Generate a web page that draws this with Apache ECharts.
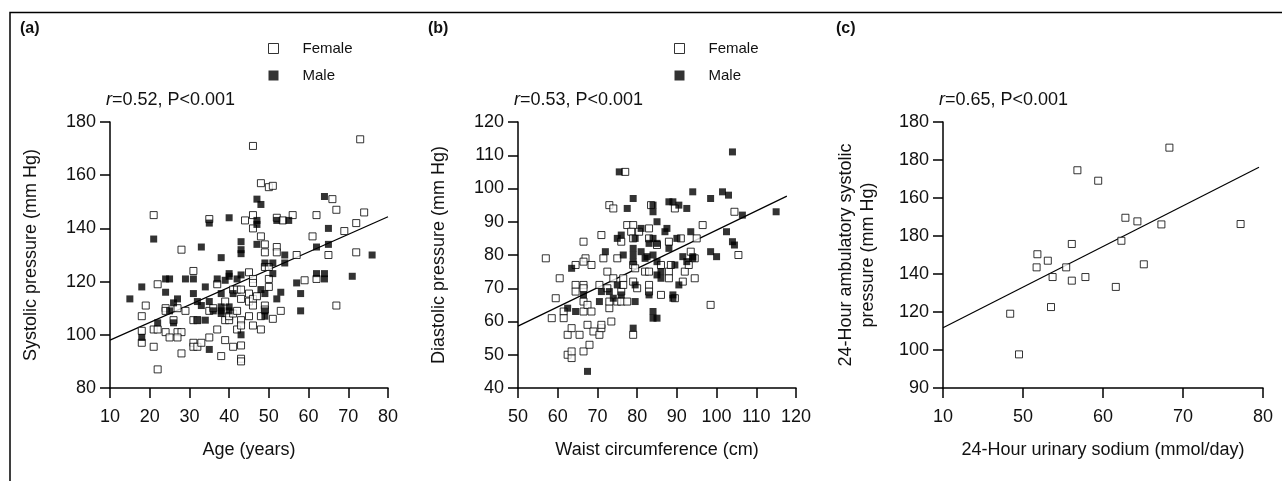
<!DOCTYPE html>
<html>
<head>
<meta charset="utf-8">
<script src="https://cdn.jsdelivr.net/npm/echarts@6/dist/echarts.min.js"></script>
<style>
  html, body { margin: 0; padding: 0; background: #fff; }
  #chart { width: 1282px; height: 481px; }
</style>
</head>
<body>
<div id="chart"></div>
<script>
// panel (a): age vs systolic pressure
const femaleA = [[46,171],[73,173.5],[21,145],[35,143.5],[44,143],[46,145],[46,140],[48,157],[50,155.5],[51,156],[52,144],[53.5,143],[56,145],[62,145],[66,151],[67,147],[74,146],[72,142],[69,139],[61,137],[48,137],[49,134],[52,133],[49,131],[52,131],[57,130],[65,130],[72,131],[28,132],
  [18,107],[18,101.5],[18,97],[19,111],[22,119],[21,102],[22,102],[21,95.5],[22,87],[24,110],[24,109],[24,101],[25,99],[26,105.5],[27,110],[27,101],[28,101],[27,99],[28,93],[29,109],[31,124],[31,105.5],[32,105.5],[31,97],[31,95.5],[32,95.5],[33,97],[35,99],[35,109],[36,110],[37,119],[37,102],[38,92],[39,112.5],[39,105.5],[39,98],[40,105.5],[40,107],[41,117],[41,95.5],[41,108],[42,117],[42,102],[42,109],[43,113.5],[43,117],[43,105.5],[43,103.5],[43,96],[43,91],[43,90],[45,123.5],[45,115.5],[45,112.5],[45,107],[46,121],[46,119.5],[46,113.5],[46,111],[46,103.5],[47,114.5],[48,107],[48,102],[49,125.5],[49,111],[49,109.5],[50,125.5],[50,121],[50,118],[51,106],[53,109],[59,120.5],[62,121],[67,111]];
const maleA = [[21,136],[35,142],[40,144],[47,151],[48,149],[47,143],[47,141.5],[52,143],[55,143],[64,152],[65,140],[43,135],[47,134],[33,133],[43,132],[43,130.5],[65,134],[62,133],[38,129],[54,130],[76,130],
  [15,113.5],[18,118],[18,99],[24,121],[25,121],[24,116],[25,109],[26,112],[27,113.5],[22,104.5],[26,104.5],[29,121],[31,121],[31,115.5],[32,112.5],[33,111],[32,105.5],[34,105.5],[34,118],[35,112.5],[35,94.5],[36,109],[37,121],[38,115.5],[38,110.5],[38,109],[38,108],[39,120.5],[40,123],[40,122],[40,110.5],[40,109],[41,115.5],[42,121],[43,122.5],[43,100],[48,117],[49,127],[49,115.5],[49,109],[49,107],[51,127],[51,123],[52,113.5],[53,116],[54,127],[57,119.5],[58,115.5],[58,109],[62,123],[64,123],[64,121],[71,122]];
const fitA = [[10,98],[80,144.4]];

// panel (b): waist vs diastolic pressure
const femaleB = [[77,105],[73,95],[74,94],[83.5,95],[89.5,94],[77.5,89],[79,89],[83,88],[96.5,89],[71,86],[66.5,84],[76,84],[78.5,87],[79,85],[80.5,87],[83,85],[85,83],[88,84],[91,85],[95,85],[104.5,93],[93.5,81],[105.5,80],[57,79],[67,79],[71.5,79],[75,79],
  [58.5,61],[59.5,67],[60.5,73],[61.5,63],[61.5,61],[62.5,56],[62.5,50],[63.5,49],[63.5,51],[63.5,58],[64.5,77],[64.5,71],[64.5,69],[65.5,56],[66.5,71],[66.5,70],[66.5,78],[66.5,66],[66.5,63],[66.5,51],[67.5,65],[67.5,59],[68,53],[68.5,77],[68.5,63],[69,57],[70.5,71],[70.5,56],[71,58],[71,59],[72.5,75],[72.5,70],[73,64],[73,66],[73.5,60],[74,73],[75,66],[76,66],[76,69],[76.5,73],[76.5,71],[77.5,66],[79,72],[79,56],[79,77],[79.5,76],[80,70],[82,75],[83,75],[83,71],[83,69],[86,77],[86,68],[88,75],[88,73],[88.5,77],[89.5,67],[91.5,72],[92,75],[93,77],[94.5,79],[94.5,73],[98.5,65]];
const maleB = [[104,111],[75.5,105],[79,97],[77.5,94],[84,95],[84,93],[88,96],[89,96],[90.5,95],[92.5,94],[94,99],[98.5,97],[101.5,99],[103,98],[115,93],[106.5,92],[85,90],[75,85],[76,86],[79.5,85],[81,88],[87,87],[87.5,88],[84,85],[83,83.5],[85,83.5],[90,85],[93.5,87],[102.5,87],[104,84],[104.5,83],[88,82],[79,82],[72,81],[76.5,80],[79,80],[81,81],[82.5,79.5],[84,80],[91.5,79.5],[94,79.5],[98.5,81],[100,79.5],
  [63.5,76],[62.5,64],[64.5,63],[66.5,68],[67.5,45],[70.5,66],[71,69],[73,69],[74,67],[75,71],[76,68],[79,78],[79,58],[79.5,71],[79.5,66],[82,79],[83,68],[84,63],[84,61],[85,61],[85,78],[85,74],[86,73],[86,75],[89,68],[89,67],[89.5,77],[90.5,71],[92.5,78],[94,79]];
const fitB = [[50,58.6],[117.7,97.7]];

// panel (c): sodium vs ambulatory systolic pressure
const pointsC = [[68.3,206.5],[56.8,194.6],[59.4,189.1],[62.8,169.6],[64.3,167.7],[67.3,166.1],[77.2,166.3],[62.3,157.5],[56.1,155.8],[51.8,150.4],[53.1,147],[51.7,143.5],[55.4,143.5],[65.1,145.1],[53.7,138.4],[56.1,136.5],[57.8,138.4],[61.6,133.2],[53.5,122.6],[48.4,119.1],[49.5,97.7]];
const fitC = [[40,111.7],[79.5,196.2]];
// tick labels as printed in panel (c)
const xLabelsC = ['10', '50', '60', '70', '80'];
const yLabelsC = ['90', '100', '120', '140', '180', '160', '180', '180'];

const FONT = 'Liberation Sans, Arial, sans-serif';
const INK = '#111';
const FS = 18;

function axis(extra, isY) {
  return Object.assign({
    type: 'value',
    axisLine: { show: true, onZero: false, lineStyle: { color: '#000', width: 1.5 } },
    axisTick: { show: true, length: 10, lineStyle: { color: '#000', width: 1.5 } },
    axisLabel: { color: INK, fontSize: FS, fontFamily: FONT, margin: isY ? 14 : 20 },
    splitLine: { show: false },
    nameLocation: 'middle',
    nameTextStyle: { color: INK, fontSize: FS, fontFamily: FONT }
  }, extra);
}

const openSq = { color: '#fff', borderColor: '#000', borderWidth: 1 };
const fillSq = { color: '#000' };

function scatter(name, data, idx, style) {
  return { name: name, type: 'scatter', data: data, xAxisIndex: idx, yAxisIndex: idx,
    symbol: 'rect', symbolSize: 7, itemStyle: style, silent: true };
}
function fit(data, idx) {
  return { type: 'line', data: data, xAxisIndex: idx, yAxisIndex: idx, showSymbol: false,
    lineStyle: { color: '#000', width: 1.2 }, silent: true, z: 1 };
}

const legendItems = [
  { name: 'Female', icon: 'rect', itemStyle: openSq },
  { name: 'Male', icon: 'rect', itemStyle: fillSq }
];
function legend(left) {
  return { data: legendItems, orient: 'vertical', left: left, top: 36, itemWidth: 10, itemHeight: 10,
    itemGap: 12, selectedMode: false,
    textStyle: { color: INK, fontSize: 15, fontFamily: FONT, padding: [0, 0, 0, 19] } };
}

const annot = (left, r) => ({
  left: left, top: 91, padding: 0,
  text: '{i|r}=' + r + ', P<0.001',
  textStyle: { color: INK, fontSize: FS, fontWeight: 'normal', fontFamily: FONT,
    rich: { i: { fontStyle: 'italic', fontSize: FS, fontFamily: FONT, color: INK } } }
});
const letter = (left, t) => ({
  left: left, top: 21, padding: 0, text: t,
  textStyle: { color: INK, fontSize: 16, fontWeight: 'bold', fontFamily: FONT }
});

const option = {
  animation: false,
  backgroundColor: '#fff',
  title: [letter(20, '(a)'), letter(428, '(b)'), letter(836, '(c)'),
    annot(106, '0.52'), annot(514, '0.53'), annot(939, '0.65')],
  legend: [legend(263), legend(669)],
  grid: [
    { left: 110, top: 122, width: 278, height: 266 },
    { left: 518, top: 122, width: 278, height: 266 },
    { left: 943, top: 122, width: 320, height: 266 }
  ],
  xAxis: [
    axis({ gridIndex: 0, min: 10, max: 80, interval: 10, name: 'Age (years)', nameGap: 53 }),
    axis({ gridIndex: 1, min: 50, max: 120, interval: 10, name: 'Waist circumference (cm)', nameGap: 53 }),
    axis({ gridIndex: 2, min: 40, max: 80, interval: 10, name: '24-Hour urinary sodium (mmol/day)', nameGap: 53,
      axisLabel: { color: INK, fontSize: FS, fontFamily: FONT, margin: 20, formatter: v => xLabelsC[(v - 40) / 10] } })
  ],
  yAxis: [
    axis({ gridIndex: 0, min: 80, max: 180, interval: 20, name: 'Systolic pressure (mm Hg)', nameGap: 70 }, true),
    axis({ gridIndex: 1, min: 40, max: 120, interval: 10, name: 'Diastolic pressure (mm Hg)', nameGap: 70 }, true),
    axis({ gridIndex: 2, min: 80, max: 220, interval: 20, name: '24-Hour ambulatory systolic\npressure (mm Hg)', nameGap: 64,
      nameTextStyle: { color: INK, fontSize: FS, fontFamily: FONT, lineHeight: 22 },
      axisLabel: { color: INK, fontSize: FS, fontFamily: FONT, margin: 14, formatter: v => yLabelsC[(v - 80) / 20] } }, true)
  ],
  series: [
    fit(fitA, 0), scatter('Female', femaleA, 0, openSq), scatter('Male', maleA, 0, fillSq),
    fit(fitB, 1), scatter('Female', femaleB, 1, openSq), scatter('Male', maleB, 1, fillSq),
    fit(fitC, 2), scatter('C', pointsC, 2, openSq)
  ],
  graphic: [{
    type: 'polyline', silent: true,
    shape: { points: [[10, 481], [10, 12.5], [1282, 12.5]] },
    style: { stroke: '#000', lineWidth: 1.5, fill: null }
  }]
};

const chart = echarts.init(document.getElementById('chart'), null, { renderer: 'canvas' });
chart.setOption(option);
</script>
</body>
</html>
